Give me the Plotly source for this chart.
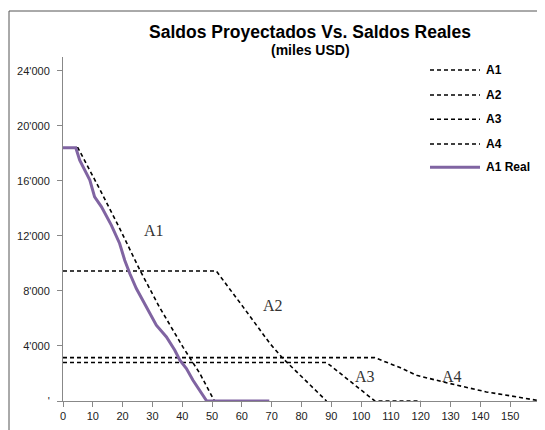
import plotly.graph_objects as go

# ---------------- data ----------------
a1_x = [0, 5, 12.3, 19, 25.7, 32.4, 40.3, 45.9, 50.8]
a1_y = [18400, 18400, 15400, 12550, 9550, 6800, 3900, 2000, 0]

a2_x = [0, 51.4, 60.4, 69.4, 73.8, 80, 88.4]
a2_y = [9450, 9450, 6840, 4180, 3090, 1780, 0]

a3_x = [0, 88.4, 96.5, 104.6, 120]
a3_y = [2800, 2800, 1400, 0, 0]

a4_x = [0, 104.6, 113, 118.6, 127.6, 142, 150, 159]
a4_y = [3150, 3150, 2430, 1870, 1380, 660, 380, 50]

real_x = [0, 4.3, 5.6, 9.0, 10.6, 12.9, 16.2, 19.0, 20.7, 22.4, 24.6, 26.8,
          29.1, 31.3, 34.7, 37.5, 39.2, 41.4, 43.6, 48.2, 69.2]
real_y = [18400, 18400, 17500, 16050, 14840, 14110, 12780, 11450, 10230, 9265,
          8175, 7325, 6355, 5505, 4655, 3690, 2960, 2355, 1505, 0, 0]

series_names = ["A1", "A2", "A3", "A4", "A1 Real"]

y_ticks = [0, 4000, 8000, 12000, 16000, 20000, 24000]
y_labels = ["'", "4'000", "8'000", "12'000", "16'000", "20'000", "24'000"]
x_ticks = list(range(0, 160, 10))

labels = [("A1", 30.6, 12400), ("A2", 70.6, 6960), ("A3", 101.3, 1800), ("A4", 130.4, 1800)]

# ---------------- layout helpers (figure pixel -> paper) ----------------
W, H = 545, 430
L, R, T, B = 55, 13, 49, 37
PW, PH = W - L - R, H - T - B


def px(fx):
    return (fx - L) / PW


def py(fy):
    return 1 - (fy - T) / PH


# ---------------- figure ----------------
fig = go.Figure()
dash_line = dict(color="black", width=1.6, dash="4px,3px")
real_line = dict(color="#8064A2", width=3)
styles = [dash_line] * 4 + [real_line]
data = [(a1_x, a1_y), (a2_x, a2_y), (a3_x, a3_y), (a4_x, a4_y), (real_x, real_y)]
for name, (xs, ys), st in zip(series_names, data, styles):
    fig.add_trace(go.Scatter(x=xs, y=ys, mode="lines", name=name, line=st, showlegend=False))

for txt, x, y in labels:
    fig.add_annotation(x=x, y=y, text=txt, showarrow=False,
                       font=dict(family="Liberation Serif", size=16, color="#333333"))

# custom legend (long line samples like the original)
leg_rows = [62, 87, 111.3, 136, 159.3]
for name, st, fy in zip(series_names, styles, leg_rows):
    fig.add_shape(type="line", xref="paper", yref="paper", x0=px(422), x1=px(472),
                  y0=py(fy), y1=py(fy), line=st)
    fig.add_annotation(xref="paper", yref="paper", x=px(476), y=py(fy), text=f"<b>{name}</b>",
                       showarrow=False, xanchor="left", yanchor="middle",
                       font=dict(family="Liberation Sans", size=12, color="black"))

fig.add_annotation(xref="paper", yref="paper", x=px(301.5), y=py(24), xanchor="center", yanchor="middle",
                   text="<b>Saldos Proyectados Vs. Saldos Reales</b>", showarrow=False,
                   font=dict(family="Liberation Sans", size=17.5, color="black"))
fig.add_annotation(xref="paper", yref="paper", x=px(302), y=py(42), xanchor="center", yanchor="middle",
                   text="<b>(miles USD)</b>", showarrow=False,
                   font=dict(family="Liberation Sans", size=14, color="black"))

# outer frame
fig.add_shape(type="rect", xref="paper", yref="paper",
              x0=px(1), x1=px(600), y0=py(470), y1=py(3),
              line=dict(color="#555555", width=1))

fig.update_layout(
    width=W, height=H,
    margin=dict(l=L, r=R, t=T, b=B, autoexpand=False),
    paper_bgcolor="white", plot_bgcolor="white",
    font=dict(family="Liberation Sans", size=11, color="#222222"),
    showlegend=False,
)
fig.update_xaxes(range=[0, 160], tickvals=x_ticks, showgrid=False, zeroline=False,
                 showline=True, linecolor="#888888", linewidth=1, automargin=False,
                 ticks="outside", ticklen=5, tickcolor="#888888",
                 tickfont=dict(size=11, color="#222222"))
fig.update_yaxes(range=[0, 25000], tickvals=y_ticks, ticktext=y_labels, showgrid=False,
                 zeroline=False, showline=True, linecolor="#888888", linewidth=1, automargin=False,
                 ticks="outside", ticklen=5, tickcolor="#888888", ticklabelstandoff=5,
                 tickfont=dict(size=11, color="#222222"))

fig.write_html("out.html")
